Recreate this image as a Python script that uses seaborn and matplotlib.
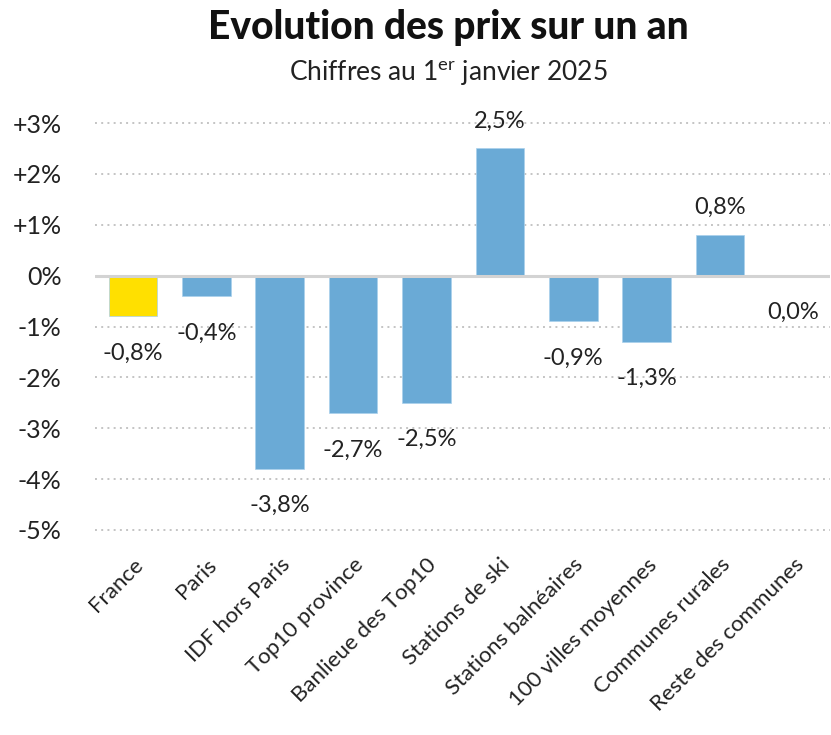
import pandas as pd
import matplotlib.pyplot as plt
import seaborn as sns

# Data
categories = ["France", "Paris", "IDF hors Paris", "Top10 province", "Banlieue des Top10",
              "Stations de ski", "Stations balnéaires", "100 villes moyennes",
              "Communes rurales", "Reste des communes"]
values = [-0.8, -0.4, -3.8, -2.7, -2.5, 2.5, -0.9, -1.3, 0.8, 0.0]
groups = ["France", "Autre", "Autre", "Autre", "Autre", "Autre", "Autre", "Autre", "Autre", "Autre"]
y_ticks = [3, 2, 1, 0, -1, -2, -3, -4, -5]
y_tick_labels = ["+3%", "+2%", "+1%", "0%", "-1%", "-2%", "-3%", "-4%", "-5%"]

df = pd.DataFrame({"categorie": categories, "evolution": values, "groupe": groups})

sns.set_theme(style="white")
plt.rcParams["font.family"] = ["Lato", "DejaVu Sans"]

fig = plt.figure(figsize=(8.31, 7.35), dpi=100)
ax = fig.add_axes([0.114, 0.272, 0.885, 0.571])

sns.barplot(data=df, x="categorie", y="evolution", hue="groupe",
            palette={"France": "#FFE000", "Autre": "#6AAAD6"}, saturation=1,
            width=0.66, dodge=False, legend=False, ax=ax,
            edgecolor="#a9d0ec", linewidth=0.5, zorder=3)

ax.set_ylim(-5.1, 3.15)
ax.set_xlim(-0.52, 9.5)
ax.set_yticks(y_ticks)
ax.set_yticklabels(y_tick_labels, fontsize=18, color="#222222")
ax.tick_params(axis="y", length=0, pad=24)
ax.tick_params(axis="x", length=0, pad=14)
plt.setp(ax.get_xticklabels(), rotation=45, ha="right", rotation_mode="anchor",
         fontsize=16, color="#222222")
ax.set_xlabel("")
ax.set_ylabel("")

for t in y_ticks:
    if t != 0:
        ax.axhline(t, color="#c4c4c4", lw=1.4, ls=(0, (1, 2.2)), zorder=1)
ax.axhline(0, color="#d3d3d3", lw=2.2, zorder=4)

for s in ax.spines.values():
    s.set_visible(False)

# bar labels
for i, v in enumerate(values):
    txt = f"{v:.1f}%".replace(".", ",")
    if v > 0:
        ax.annotate(txt, (i, v), xytext=(0, 12), textcoords="offset points",
                    ha="center", va="bottom", fontsize=17, color="#222222")
    else:
        ax.annotate(txt, (i, v), xytext=(0, -19), textcoords="offset points",
                    ha="center", va="top", fontsize=17, color="#222222")

fig.text(0.54, 0.962, "Evolution des prix sur un an", ha="center", va="center",
         fontsize=28, fontweight="black", color="#111111")
fig.text(0.54, 0.902, "Chiffres au 1$\\mathregular{^{er}}$ janvier 2025", ha="center",
         va="center", fontsize=19, color="#222222")

fig.savefig("out.png", dpi=100)
